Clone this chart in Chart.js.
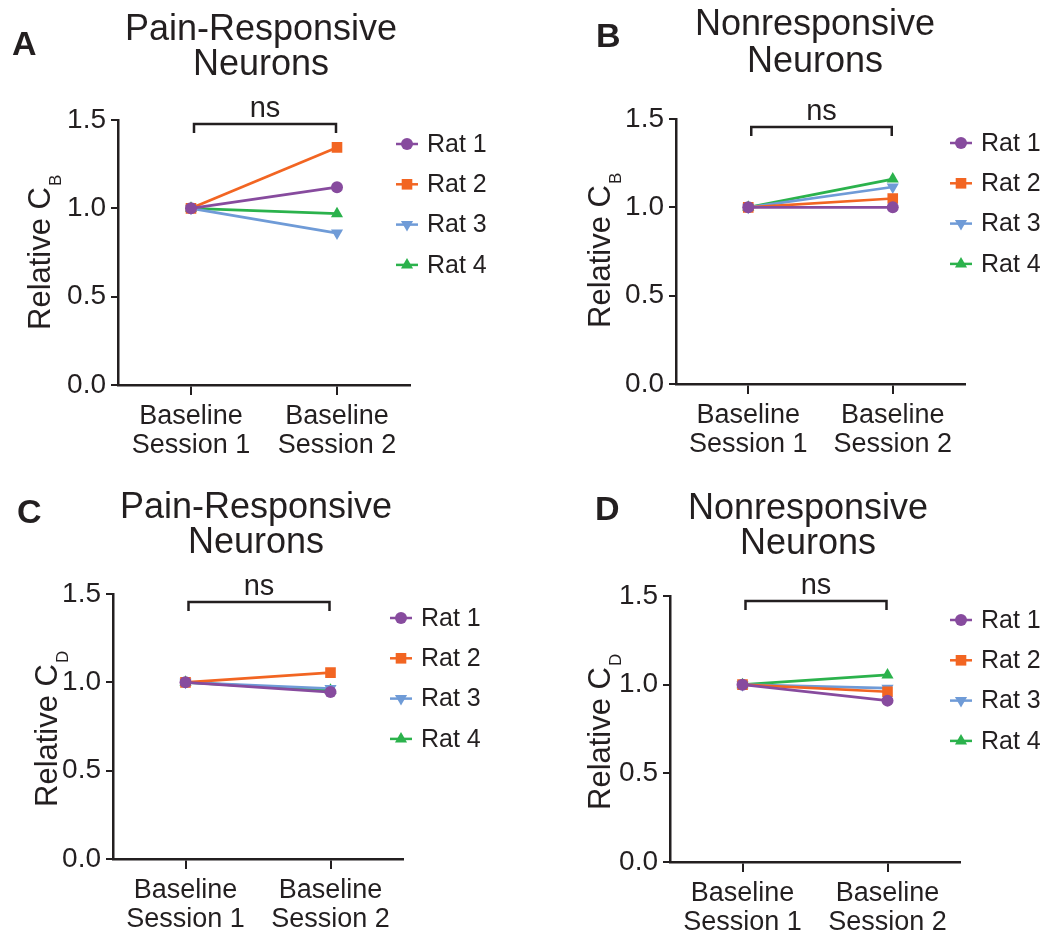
<!DOCTYPE html>
<html>
<head>
<meta charset="utf-8">
<script src="https://cdn.jsdelivr.net/npm/chart.js@4.4.0/dist/chart.umd.min.js"></script>
<style>
  html, body { margin: 0; padding: 0; background: #fff; }
  #wrap { position: relative; width: 1046px; height: 938px; }
  #wrap canvas { position: absolute; left: 0; top: 0; }
</style>
</head>
<body>
<div id="wrap">
  <canvas id="chartA" width="1046" height="938"></canvas>
  <canvas id="chartB" width="1046" height="938"></canvas>
  <canvas id="chartC" width="1046" height="938"></canvas>
  <canvas id="chartD" width="1046" height="938"></canvas>
</div>
<script>
var categories = [["Baseline", "Session 1"], ["Baseline", "Session 2"]];
var ratNames = ["Rat 1", "Rat 2", "Rat 3", "Rat 4"];
var yTicks = [0, 0.5, 1.0, 1.5];

// relative C_B, one pair per rat (session 1, session 2)
var painCB = [[1.00, 1.12], [1.00, 1.345], [1.00, 0.86], [1.00, 0.97]];
var nonCB = [[1.00, 1.00], [1.00, 1.05], [1.00, 1.115], [1.00, 1.16]];
// relative C_D
var painCD = [[1.00, 0.945], [1.00, 1.055], [1.00, 0.965], [1.00, 0.955]];
var nonCD = [[1.00, 0.91], [1.00, 0.96], [1.00, 0.98], [1.00, 1.055]];

var ratColors = ["#874b9e", "#f26522", "#6f9bd7", "#2bb24c"];
var ratMarkers = ["circle", "rect", "triangle", "triangle"];
var markerRotation = [0, 0, 180, 0];
var markerRadius = [6, 7.5, 7, 7];

var ink = "#231f20";
var sans = "'Liberation Sans', Arial, sans-serif";

var panels = [
  { id: "chartA", values: painCB, area: { left: 118, right: 410, top: 120, bottom: 385 },
    decor: { letter: "A", letterX: 12, letterY: 55, title: ["Pain-Responsive", "Neurons"], titleX: 261, titleY: [40, 75],
             sub: "B", yTitleX: 50, yTitleY: 330, bracketDy: 4, legendX: 396, legendY: 144 } },
  { id: "chartB", values: nonCB, area: { left: 676, right: 965, top: 119, bottom: 384 },
    decor: { letter: "B", letterX: 596, letterY: 47, title: ["Nonresponsive", "Neurons"], titleX: 815, titleY: [35, 72],
             sub: "B", yTitleX: 610, yTitleY: 328, bracketDy: 8, legendX: 950, legendY: 143 } },
  { id: "chartC", values: painCD, area: { left: 113, right: 403, top: 594, bottom: 859 },
    decor: { letter: "C", letterX: 17, letterY: 523, title: ["Pain-Responsive", "Neurons"], titleX: 256, titleY: [518, 553],
             sub: "D", yTitleX: 57, yTitleY: 807, bracketDy: 8, legendX: 390, legendY: 618 } },
  { id: "chartD", values: nonCD, area: { left: 670, right: 960, top: 596, bottom: 862 },
    decor: { letter: "D", letterX: 595, letterY: 520, title: ["Nonresponsive", "Neurons"], titleX: 808, titleY: [519, 554],
             sub: "D", yTitleX: 610, yTitleY: 810, bracketDy: 5, legendX: 950, legendY: 620 } }
];

var decorPlugin = {
  id: "panelDecor",
  afterDraw: function (chart, args, d) {
    var ctx = chart.ctx, area = chart.chartArea, xs = chart.scales.x;
    ctx.save();
    ctx.fillStyle = ink;
    ctx.strokeStyle = ink;

    ctx.font = "bold 34px " + sans;
    ctx.textAlign = "left";
    ctx.textBaseline = "alphabetic";
    ctx.fillText(d.letter, d.letterX, d.letterY);

    ctx.font = "36px " + sans;
    ctx.textAlign = "center";
    d.title.forEach(function (line, i) { ctx.fillText(line, d.titleX, d.titleY[i]); });

    // ns bracket between the two sessions
    var x0 = xs.getPixelForValue(0) + 3, x1 = xs.getPixelForValue(1) - 1;
    var yb = area.top + d.bracketDy;
    ctx.lineWidth = 2.5;
    ctx.beginPath();
    ctx.moveTo(x0, yb + 9); ctx.lineTo(x0, yb); ctx.lineTo(x1, yb); ctx.lineTo(x1, yb + 9);
    ctx.stroke();
    ctx.font = "29px " + sans;
    ctx.fillText("ns", (x0 + x1) / 2, yb - 7);

    // legend: line + marker + name
    chart.data.datasets.forEach(function (ds, i) {
      var y = d.legendY + i * 40.3;
      ctx.strokeStyle = ds.borderColor;
      ctx.lineWidth = 2.5;
      ctx.beginPath(); ctx.moveTo(d.legendX, y); ctx.lineTo(d.legendX + 22, y); ctx.stroke();
      ctx.fillStyle = ds.backgroundColor;
      Chart.helpers.drawPoint(ctx, { pointStyle: ds.pointStyle, rotation: ds.rotation, radius: ds.pointRadius, borderWidth: 0 }, d.legendX + 11, y);
      ctx.fillStyle = ink;
      ctx.font = "25px " + sans;
      ctx.textAlign = "left";
      ctx.textBaseline = "middle";
      ctx.fillText(ds.label, d.legendX + 31, y + 1);
    });

    // y title with subscript
    ctx.translate(d.yTitleX, d.yTitleY);
    ctx.rotate(-Math.PI / 2);
    ctx.textAlign = "left";
    ctx.textBaseline = "alphabetic";
    ctx.font = "31px " + sans;
    ctx.fillText("Relative C", 0, 0);
    var w = ctx.measureText("Relative C").width;
    ctx.font = "17px " + sans;
    ctx.fillText(d.sub, w + 1, 11);
    ctx.restore();
  }
};

function makeChart(p) {
  var datasets = ratNames.map(function (name, i) {
    return {
      label: name,
      data: p.values[i],
      borderColor: ratColors[i],
      backgroundColor: ratColors[i],
      borderWidth: 2.7,
      pointStyle: ratMarkers[i],
      rotation: markerRotation[i],
      pointRadius: markerRadius[i],
      pointHoverRadius: markerRadius[i],
      pointBorderWidth: 0,
      tension: 0
    };
  });
  var yAxisW = 110, xAxisH = 90;
  return new Chart(document.getElementById(p.id), {
    type: "line",
    data: { labels: categories, datasets: datasets },
    options: {
      responsive: false,
      animation: false,
      events: [],
      layout: {
        autoPadding: false,
        padding: { left: p.area.left - yAxisW, right: 1046 - p.area.right, top: p.area.top, bottom: 938 - p.area.bottom - xAxisH }
      },
      plugins: { legend: { display: false }, tooltip: { enabled: false }, panelDecor: p.decor },
      scales: {
        x: {
          offset: true,
          grid: { display: true, drawOnChartArea: false, drawTicks: true, tickLength: 10, color: ink, lineWidth: 2 },
          border: { display: true, color: ink, width: 2.5 },
          ticks: { color: ink, font: { family: sans, size: 27, lineHeight: 1.08 }, padding: 7, maxRotation: 0, autoSkip: false },
          afterFit: function (s) { s.height = xAxisH; }
        },
        y: {
          min: 0, max: 1.5,
          afterBuildTicks: function (s) { s.ticks = yTicks.map(function (v) { return { value: v }; }); },
          grid: { display: true, drawOnChartArea: false, drawTicks: true, tickLength: 7, color: ink, lineWidth: 2 },
          border: { display: true, color: ink, width: 2.5 },
          ticks: { color: ink, font: { family: sans, size: 28 }, padding: 5,
                   callback: function (v) { return Number(v).toFixed(1); } },
          afterFit: function (s) { s.width = yAxisW; }
        }
      }
    },
    plugins: [decorPlugin]
  });
}

panels.forEach(makeChart);
</script>
</body>
</html>
